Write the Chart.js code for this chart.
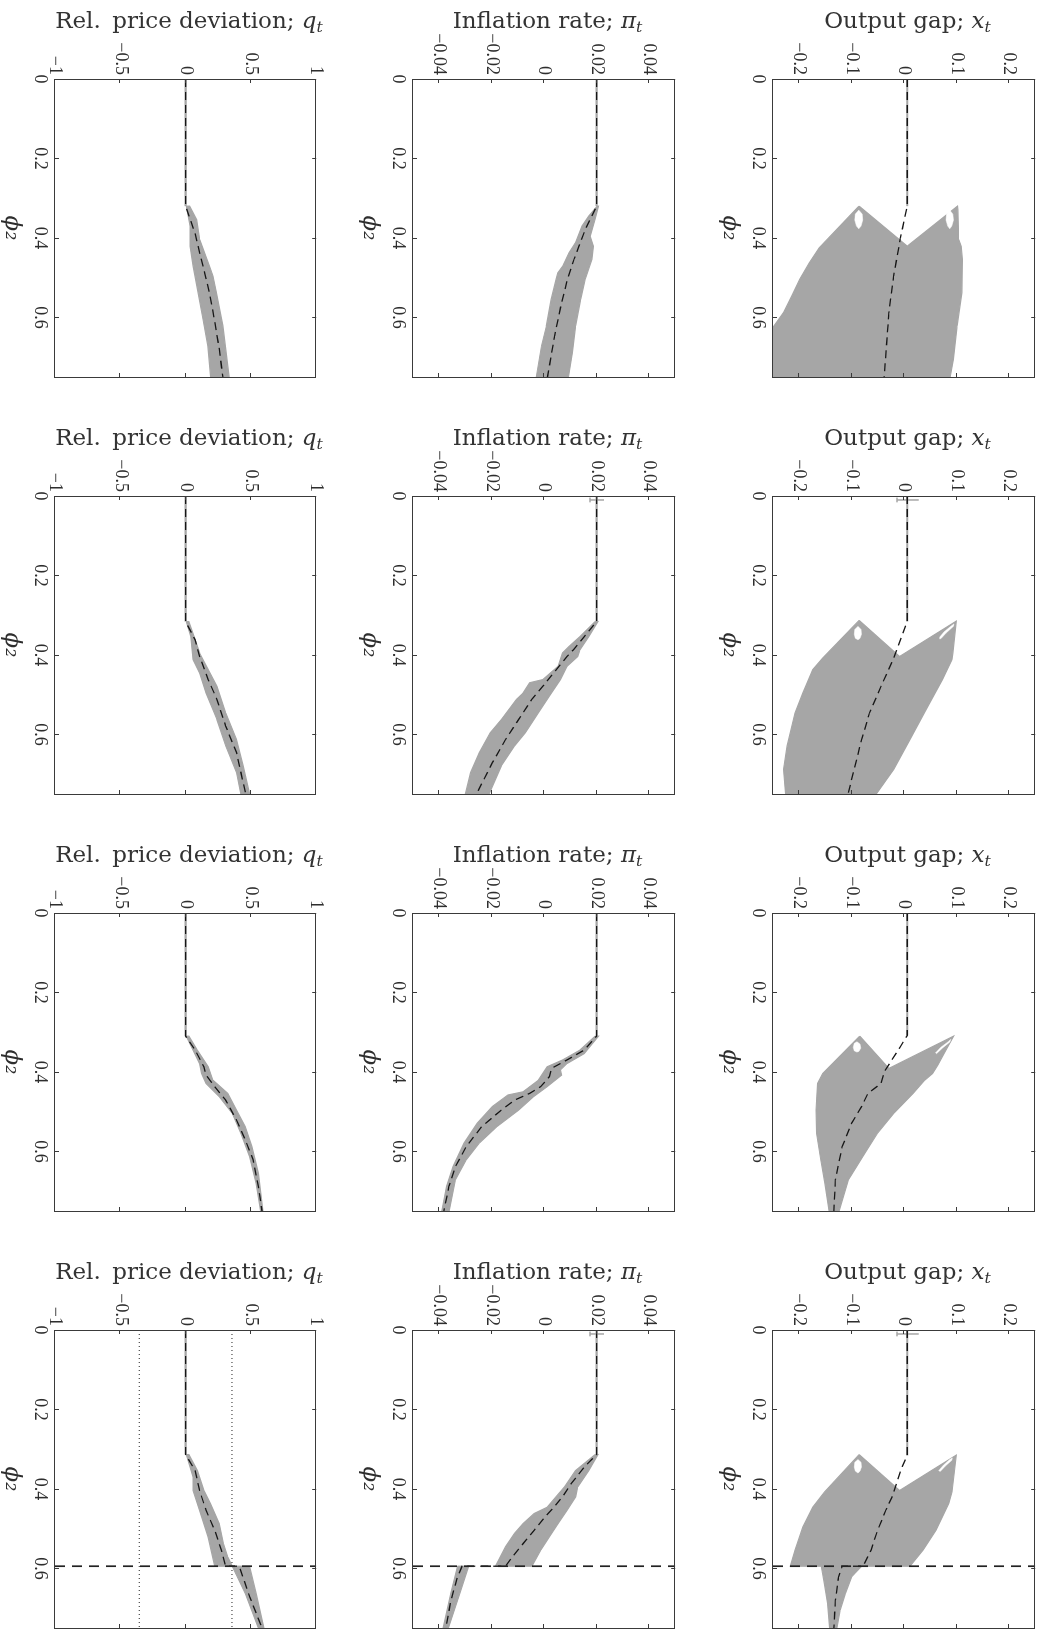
<!DOCTYPE html>
<html>
<head>
<meta charset="utf-8">
<script src="https://cdn.jsdelivr.net/npm/chart.js@4.4.0/dist/chart.umd.min.js"></script>
<style>
  body { margin: 0; background: #fff; width: 1053px; height: 1631px; position: relative; overflow: hidden; }
  canvas { position: absolute; left: 0; top: 0; transform-origin: 0 0; }
  .ttl { position: absolute; font-family: "DejaVu Serif", serif; font-size: 23px; color: #333; text-align: center; white-space: nowrap; line-height: 1; }
  .ttl i { font-style: italic; }
  .ttl sub { font-size: 0.68em; font-style: italic; vertical-align: -0.28em; line-height: 0; }
</style>
</head>
<body>
<script>
// axes
var phiTicks = [0, 0.2, 0.4, 0.6];
var phiRange = [0, 0.75];
var qTicks = [-1, -0.5, 0, 0.5, 1];
var qRange = [-1, 1];
var piTicks = [-0.04, -0.02, 0, 0.02, 0.04];
var piRange = [-0.05, 0.05];
var gapTicks = [-0.2, -0.1, 0, 0.1, 0.2];
var gapRange = [-0.25, 0.25];

// points are [phi2, value]
// ---- output gap x_t ----
var gapMed1 = [[0, 0.006], [0.32, 0.006], [0.40, -0.007], [0.496, -0.02], [0.588, -0.029], [0.75, -0.038]];
var gapCloud1 = [[0.32, -0.086], [0.425, -0.162], [0.463, -0.181], [0.504, -0.199], [0.546, -0.214], [0.588, -0.23], [0.625, -0.25], [0.75, -0.25],
  [0.75, 0.088], [0.705, 0.094], [0.621, 0.101], [0.538, 0.11], [0.454, 0.111], [0.421, 0.109], [0.404, 0.104], [0.329, 0.1025], [0.32, 0.102], [0.421, 0.006]];
var gapHoles1 = [
  [[0.33, -0.0864], [0.34, -0.080], [0.355, -0.079], [0.37, -0.082], [0.377, -0.0864], [0.37, -0.091], [0.355, -0.094], [0.34, -0.093]],
  [[0.33, 0.087], [0.34, 0.093], [0.355, 0.094], [0.37, 0.091], [0.377, 0.087], [0.37, 0.083], [0.355, 0.080], [0.34, 0.081]]
];

var gapMed2 = [[0, 0.006], [0.316, 0.006], [0.408, -0.0197], [0.479, -0.044], [0.546, -0.066], [0.613, -0.081], [0.75, -0.107]];
var gapCloud2 = [[0.313, -0.0857], [0.408, -0.155], [0.437, -0.174], [0.496, -0.193], [0.546, -0.208], [0.629, -0.223], [0.688, -0.23], [0.75, -0.226],
  [0.75, -0.053], [0.688, -0.0197], [0.613, 0.011], [0.537, 0.042], [0.462, 0.073], [0.412, 0.0914], [0.395, 0.093], [0.315, 0.0994], [0.404, -0.0086]];
var gapHoles2 = [
  [[0.328, -0.088], [0.336, -0.082], [0.348, -0.0814], [0.358, -0.084], [0.362, -0.088], [0.358, -0.093], [0.348, -0.095], [0.336, -0.094]],
  [[0.322, 0.095], [0.328, 0.094], [0.345, 0.080], [0.358, 0.071], [0.36, 0.068], [0.355, 0.068], [0.342, 0.076], [0.328, 0.089]]
];

var gapMed3 = [[0, 0.006], [0.308, 0.006], [0.337, -0.0073], [0.40, -0.038], [0.429, -0.044], [0.454, -0.069], [0.487, -0.081], [0.529, -0.10], [0.588, -0.118], [0.671, -0.131], [0.75, -0.134]];
var gapCloud3 = [[0.31, -0.0845], [0.404, -0.155], [0.429, -0.165], [0.496, -0.168], [0.554, -0.167], [0.621, -0.159], [0.68, -0.151], [0.75, -0.143],
  [0.75, -0.124], [0.671, -0.106], [0.605, -0.075], [0.554, -0.0505], [0.504, -0.0197], [0.454, 0.0173], [0.421, 0.039], [0.404, 0.054], [0.383, 0.064], [0.354, 0.076], [0.31, 0.0945], [0.391, -0.029]];
var gapHoles3 = [
  [[0.324, -0.09], [0.33, -0.084], [0.34, -0.0826], [0.348, -0.086], [0.35, -0.09], [0.347, -0.095], [0.338, -0.097], [0.328, -0.095]],
  [[0.318, 0.089], [0.325, 0.087], [0.34, 0.073], [0.354, 0.062], [0.352, 0.06], [0.338, 0.07], [0.324, 0.084]]
];

var gapMed4 = [[0, 0.006], [0.316, 0.006], [0.345, -0.004], [0.42, -0.023], [0.454, -0.035], [0.504, -0.0505], [0.554, -0.063], [0.5945, -0.078], [0.5945, -0.118], [0.621, -0.125], [0.68, -0.131], [0.75, -0.134]];
var gapCloud4 = [[0.3135, -0.0857], [0.408, -0.152], [0.446, -0.174], [0.496, -0.193], [0.554, -0.208], [0.5945, -0.217],
  [0.5945, 0.011], [0.554, 0.036], [0.504, 0.0606], [0.437, 0.085], [0.408, 0.0914], [0.315, 0.0994], [0.404, -0.0086]];
var gapCloud4b = [[0.5945, -0.158], [0.638, -0.152], [0.688, -0.146], [0.75, -0.142], [0.75, -0.128], [0.705, -0.122], [0.663, -0.112], [0.621, -0.100], [0.5945, -0.081]];
var gapHoles4 = [
  [[0.326, -0.088], [0.333, -0.082], [0.345, -0.0814], [0.355, -0.084], [0.36, -0.088], [0.355, -0.093], [0.345, -0.095], [0.333, -0.094]],
  [[0.322, 0.092], [0.328, 0.091], [0.342, 0.079], [0.356, 0.069], [0.354, 0.066], [0.34, 0.075], [0.326, 0.087]]
];

// ---- inflation pi_t ----
var piMed1 = [[0, 0.02], [0.32, 0.02], [0.345, 0.0182], [0.379, 0.0157], [0.421, 0.0133], [0.454, 0.0114], [0.504, 0.0089], [0.571, 0.0064], [0.647, 0.004], [0.75, 0.0013]];
var piCloud1 = [[0.32, 0.0203], [0.345, 0.017], [0.37, 0.0145], [0.412, 0.012], [0.4375, 0.0095], [0.471, 0.0071], [0.488, 0.0052], [0.504, 0.0046], [0.555, 0.0027], [0.621, 0.0009], [0.672, -0.001], [0.75, -0.003],
  [0.75, 0.0093], [0.688, 0.0108], [0.621, 0.012], [0.555, 0.0139], [0.504, 0.0157], [0.454, 0.0182], [0.421, 0.0188], [0.396, 0.0176], [0.354, 0.0194], [0.32, 0.0207]];

var piMed2 = [[0, 0.02], [0.316, 0.02], [0.354, 0.0153], [0.387, 0.0112], [0.404, 0.0087], [0.445, 0.0037], [0.479, -0.0005], [0.512, -0.0047], [0.5625, -0.0097], [0.613, -0.0147], [0.671, -0.0197], [0.75, -0.0258]];
var piCloud2 = [[0.316, 0.0195], [0.354, 0.0137], [0.379, 0.0095], [0.395, 0.007], [0.429, 0.0053], [0.462, -0.0005], [0.47, -0.0055], [0.496, -0.008], [0.512, -0.0105], [0.5625, -0.0163], [0.596, -0.0205], [0.646, -0.0247], [0.696, -0.028], [0.75, -0.030],
  [0.75, -0.021], [0.679, -0.0163], [0.629, -0.0113], [0.596, -0.0072], [0.546, -0.0022], [0.504, 0.002], [0.462, 0.0062], [0.429, 0.0087], [0.404, 0.0128], [0.387, 0.0137], [0.354, 0.017], [0.316, 0.0205]];

var piMed3 = [[0, 0.02], [0.31, 0.02], [0.345, 0.0153], [0.37, 0.0087], [0.391, 0.0028], [0.412, 0.002], [0.437, -0.0013], [0.454, -0.0055], [0.471, -0.0113], [0.496, -0.0163], [0.5376, -0.0238], [0.588, -0.0297], [0.638, -0.0338], [0.688, -0.0363], [0.75, -0.0382]];
var piCloud3 = [[0.31, 0.0195], [0.345, 0.0137], [0.37, 0.007], [0.387, 0.0012], [0.421, -0.0022], [0.45, -0.008], [0.458, -0.0138], [0.487, -0.0197], [0.529, -0.0255], [0.579, -0.0305], [0.638, -0.0347], [0.688, -0.0372], [0.75, -0.039],
  [0.75, -0.0362], [0.671, -0.0338], [0.621, -0.0297], [0.579, -0.0247], [0.5376, -0.018], [0.496, -0.0097], [0.462, -0.004], [0.437, 0.0012], [0.408, 0.0067], [0.395, 0.0062], [0.379, 0.0087], [0.354, 0.0153], [0.31, 0.0207]];

var piMed4 = [[0, 0.02], [0.3135, 0.02], [0.345, 0.0153], [0.387, 0.0103], [0.42, 0.007], [0.446, 0.0037], [0.471, 0.0003], [0.504, -0.0038], [0.5376, -0.008], [0.579, -0.013], [0.5945, -0.0147], [0.5945, -0.0313], [0.621, -0.033], [0.68, -0.0355], [0.75, -0.0375]];
var piCloud4 = [[0.3135, 0.0195], [0.354, 0.012], [0.395, 0.0078], [0.42, 0.0045], [0.446, 0.0012], [0.462, -0.0038], [0.487, -0.008], [0.512, -0.0113], [0.5455, -0.0147], [0.5945, -0.0185],
  [0.5945, -0.0047], [0.554, -0.0013], [0.521, 0.002], [0.4875, 0.0053], [0.454, 0.0087], [0.42, 0.012], [0.395, 0.0128], [0.354, 0.017], [0.3135, 0.0205]];
var piCloud4b = [[0.5945, -0.033], [0.66, -0.0355], [0.75, -0.0385], [0.75, -0.0365], [0.66, -0.032], [0.5945, -0.0288]];

// ---- relative price deviation q_t ----
var qMed1 = [[0, 0], [0.32, 0], [0.387, 0.071], [0.4375, 0.108], [0.488, 0.146], [0.538, 0.183], [0.605, 0.22], [0.68, 0.258], [0.75, 0.285]];
var qCloud1 = [[0.32, 0.005], [0.37, 0.034], [0.421, 0.034], [0.471, 0.058], [0.538, 0.096], [0.605, 0.133], [0.672, 0.171], [0.75, 0.192],
  [0.75, 0.333], [0.621, 0.285], [0.538, 0.236], [0.496, 0.21], [0.471, 0.183], [0.404, 0.108], [0.354, 0.084], [0.32, 0.03]];

var qMed2 = [[0, 0], [0.316, 0], [0.362, 0.073], [0.404, 0.107], [0.462, 0.173], [0.512, 0.24], [0.579, 0.307], [0.646, 0.39], [0.75, 0.46]];
var qCloud2 = [[0.316, 0.005], [0.354, 0.04], [0.412, 0.057], [0.445, 0.107], [0.496, 0.157], [0.5625, 0.24], [0.629, 0.307], [0.696, 0.39], [0.75, 0.423],
  [0.75, 0.49], [0.679, 0.44], [0.6126, 0.39], [0.546, 0.307], [0.479, 0.24], [0.437, 0.173], [0.395, 0.107], [0.362, 0.073], [0.316, 0.025]];

var qMed3 = [[0, 0], [0.31, 0], [0.345, 0.073], [0.387, 0.14], [0.408, 0.157], [0.437, 0.223], [0.471, 0.307], [0.521, 0.39], [0.571, 0.457], [0.621, 0.517], [0.688, 0.557], [0.75, 0.585]];
var qCloud3 = [[0.31, 0.005], [0.345, 0.057], [0.379, 0.107], [0.404, 0.123], [0.429, 0.157], [0.462, 0.257], [0.504, 0.357], [0.554, 0.423], [0.613, 0.49], [0.68, 0.54], [0.75, 0.575],
  [0.75, 0.592], [0.655, 0.557], [0.588, 0.507], [0.5376, 0.457], [0.496, 0.39], [0.454, 0.323], [0.42, 0.207], [0.387, 0.173], [0.345, 0.09], [0.31, 0.025]];

var qMed4 = [[0, 0], [0.3135, 0], [0.354, 0.073], [0.404, 0.107], [0.454, 0.157], [0.504, 0.223], [0.554, 0.273], [0.5945, 0.307], [0.5945, 0.41], [0.671, 0.49], [0.75, 0.585]];
var qCloud4 = [[0.3135, 0.005], [0.37, 0.057], [0.404, 0.057], [0.454, 0.107], [0.521, 0.173], [0.571, 0.207], [0.5945, 0.223],
  [0.5945, 0.357], [0.571, 0.323], [0.538, 0.29], [0.487, 0.257], [0.437, 0.19], [0.404, 0.14], [0.354, 0.09], [0.3135, 0.025]];
var qCloud4b = [[0.5945, 0.357], [0.663, 0.457], [0.75, 0.557], [0.75, 0.6], [0.663, 0.54], [0.5945, 0.49]];

// spread bars drawn at phi2 near 0 (rows 2 and 4)
var gapWhisker = [[0.004, -0.0135], [0.016, -0.0135], [0.01, -0.0135], [0.01, 0.028]];
var piWhisker = [[0.004, 0.0175], [0.016, 0.0175], [0.01, 0.0175], [0.01, 0.0228]];

// row 4: switching point in phi2 and the q band
var phiCut = 0.5945;
var qBand = [-0.355, 0.355];

// page layout
var panelLeft = [55, 413, 773];
var panelTop = [79, 496, 913, 1330];
var plotLen = 298;
var plotWid = [268, 269, 269];

var cloudGray = '#a6a6a6';
var frameColor = '#3a3a3a';
var textColor = '#2e2e2e';

Chart.defaults.font.family = '"Liberation Serif", serif';
Chart.defaults.color = textColor;

function fmtTick(v) {
  return (v < 0 ? '\u2212' : '') + Math.abs(v);
}

function lineSet(points, opts) {
  var ds = {
    data: points.map(function (p) { return { x: p[0], y: p[1] }; }),
    pointRadius: 0,
    fill: false,
    tension: 0
  };
  for (var k in opts) ds[k] = opts[k];
  return ds;
}

// box with inward tick marks on all four sides
var frame = {
  id: 'frame',
  afterDraw: function (chart) {
    var ctx = chart.ctx, a = chart.chartArea;
    var x = chart.scales.x, y = chart.scales.y;
    ctx.save();
    ctx.strokeStyle = frameColor;
    ctx.lineWidth = 1;
    ctx.strokeRect(Math.round(a.left) + 0.5, Math.round(a.top) + 0.5, Math.round(a.right - a.left), Math.round(a.bottom - a.top));
    ctx.beginPath();
    x.ticks.forEach(function (t) {
      var px = Math.round(x.getPixelForValue(t.value)) + 0.5;
      ctx.moveTo(px, a.bottom); ctx.lineTo(px, a.bottom - 4);
      ctx.moveTo(px, a.top); ctx.lineTo(px, a.top + 4);
    });
    y.ticks.forEach(function (t) {
      var py = Math.round(y.getPixelForValue(t.value)) + 0.5;
      ctx.moveTo(a.left, py); ctx.lineTo(a.left + 4, py);
      ctx.moveTo(a.right, py); ctx.lineTo(a.right - 4, py);
    });
    ctx.stroke();
    ctx.restore();
  }
};

function makePanel(row, col, p) {
  var W = 48 + plotLen + 8;
  var H = 8 + plotWid[col] + 60;
  var cv = document.createElement('canvas');
  cv.width = W;
  cv.height = H;
  document.body.appendChild(cv);

  var ds = [];
  p.clouds.forEach(function (c) {
    ds.push(lineSet(c.concat([c[0]]), { fill: 'shape', backgroundColor: cloudGray, borderColor: cloudGray, borderWidth: 1.2, order: 10 }));
  });
  (p.holes || []).forEach(function (h) {
    ds.push(lineSet(h.concat([h[0]]), { fill: 'shape', backgroundColor: '#fff', borderColor: '#fff', borderWidth: 0.5, order: 9 }));
  });
  ds.push(lineSet(p.med.slice(0, 2), { borderColor: cloudGray, borderWidth: 2.2, order: 8 }));
  if (p.whisker) ds.push(lineSet(p.whisker, { borderColor: cloudGray, borderWidth: 1.5, order: 7 }));
  ds.push(lineSet(p.med, { borderColor: '#161616', borderWidth: 1.3, borderDash: [8, 5], order: 3 }));
  if (p.cut) {
    ds.push(lineSet([[p.cut, p.range[0]], [p.cut, p.range[1]]], { borderColor: '#222', borderWidth: 1.7, borderDash: [10, 7], order: 2 }));
  }
  (p.band || []).forEach(function (b) {
    ds.push(lineSet([[phiRange[0], b], [phiRange[1], b]], { borderColor: '#222', borderWidth: 1, borderDash: [1, 3], order: 1 }));
  });

  var chart = new Chart(cv, {
    type: 'line',
    data: { datasets: ds },
    options: {
      responsive: false,
      animation: false,
      devicePixelRatio: 1,
      layout: { padding: { top: 8, right: 8, left: 0, bottom: 0 } },
      plugins: { legend: { display: false }, tooltip: { enabled: false } },
      scales: {
        x: {
          type: 'linear', min: phiRange[0], max: phiRange[1],
          afterBuildTicks: function (s) { s.ticks = phiTicks.map(function (v) { return { value: v }; }); },
          afterFit: function (s) { s.height = 60; },
          grid: { display: false, drawTicks: false },
          border: { display: false },
          ticks: { padding: 4, maxRotation: 0, minRotation: 0, font: { size: 18 }, color: textColor, callback: fmtTick },
          title: { display: true, text: '\u03d5\u2082', color: textColor, font: { family: '"DejaVu Serif", serif', size: 23, style: 'italic' }, padding: { top: 0, bottom: 3 } }
        },
        y: {
          type: 'linear', min: p.range[0], max: p.range[1],
          afterBuildTicks: function (s) { s.ticks = p.ticks.map(function (v) { return { value: v }; }); },
          afterFit: function (s) { s.width = 48; },
          grid: { display: false, drawTicks: false },
          border: { display: false },
          ticks: { padding: 4, font: { size: 18 }, color: textColor, callback: fmtTick }
        }
      }
    },
    plugins: [frame]
  });

  // turn the panel a quarter clockwise: phi2 runs down the page, values run left to right
  var ca = chart.chartArea;
  cv.style.transform = 'translate(' + (panelLeft[col] + ca.bottom) + 'px,' + (panelTop[row] - ca.left) + 'px) rotate(90deg)';
}

var titles = [
  'Rel.&ensp;price deviation; <i>q</i><sub>t</sub>',
  'Inflation rate; <i>\u03c0</i><sub>t</sub>',
  'Output gap; <i>x</i><sub>t</sub>'
];

function addTitle(row, col) {
  var d = document.createElement('div');
  d.className = 'ttl';
  d.innerHTML = titles[col];
  d.style.left = panelLeft[col] + 'px';
  d.style.width = plotWid[col] + 'px';
  d.style.top = (panelTop[row] - 49 - 0.93 * 23) + 'px';
  document.body.appendChild(d);
}

var qMeds = [qMed1, qMed2, qMed3, qMed4];
var qClouds = [[qCloud1], [qCloud2], [qCloud3], [qCloud4, qCloud4b]];
var piMeds = [piMed1, piMed2, piMed3, piMed4];
var piClouds = [[piCloud1], [piCloud2], [piCloud3], [piCloud4, piCloud4b]];
var gapMeds = [gapMed1, gapMed2, gapMed3, gapMed4];
var gapClouds = [[gapCloud1], [gapCloud2], [gapCloud3], [gapCloud4, gapCloud4b]];
var gapHoles = [gapHoles1, gapHoles2, gapHoles3, gapHoles4];
var hasWhisker = [false, true, false, true];

for (var r = 0; r < 4; r++) {
  var cut = r === 3 ? phiCut : null;
  makePanel(r, 0, { med: qMeds[r], clouds: qClouds[r], ticks: qTicks, range: qRange, cut: cut, band: r === 3 ? qBand : [] });
  makePanel(r, 1, { med: piMeds[r], clouds: piClouds[r], ticks: piTicks, range: piRange, cut: cut, whisker: hasWhisker[r] ? piWhisker : null });
  makePanel(r, 2, { med: gapMeds[r], clouds: gapClouds[r], holes: gapHoles[r], ticks: gapTicks, range: gapRange, cut: cut, whisker: hasWhisker[r] ? gapWhisker : null });
  for (var c = 0; c < 3; c++) addTitle(r, c);
}
</script>
</body>
</html>
